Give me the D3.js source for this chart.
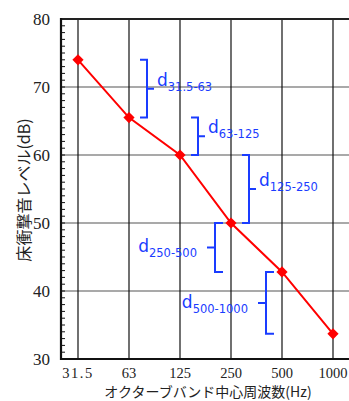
<!DOCTYPE html>
<html>
<head>
<meta charset="utf-8">
<script src="https://cdn.jsdelivr.net/npm/d3@7"></script>
<style>
  body { margin: 0; background: #fff; }
  svg { display: block; }
</style>
</head>
<body>
<svg width="349" height="401"></svg>
<script>
// octave band data
var bands = ["31.5", "63", "125", "250", "500", "1000"];
var levels = [74, 65.5, 60, 50, 42.8, 33.7];
var yTicks = [30, 40, 50, 60, 70, 80];
// difference labels between neighbouring bands
var diffSubs = ["31.5-63", "63-125", "125-250", "250-500", "500-1000"];
var diffSide = ["right", "right", "right", "left", "left"];

var svg = d3.select("svg");
var margin = { top: 19, right: 0, bottom: 42, left: 61 },
    width = +svg.attr("width") - margin.left - margin.right,
    height = +svg.attr("height") - margin.top - margin.bottom;

var g = svg.append("g")
    .attr("transform", "translate(" + margin.left + "," + margin.top + ")");

var x = d3.scaleLinear().domain([-1 / 3, bands.length - 2 / 3]).range([0, width + 1]);
var y = d3.scaleLinear().domain([30, 80]).range([height, 0]);

var serif = "'Liberation Serif', 'DejaVu Serif', serif";
var jp = "'Noto Sans CJK JP', sans-serif";

// horizontal grid
g.selectAll(".hgrid")
    .data(yTicks.filter(function (d) { return d > 30 && d < 80; }))
    .enter().append("line")
    .attr("x1", 0).attr("x2", width)
    .attr("y1", y).attr("y2", y)
    .attr("stroke", "#555").attr("stroke-width", 1.2);

// vertical grid
g.selectAll(".vgrid")
    .data(bands)
    .enter().append("line")
    .attr("x1", function (d, i) { return x(i); })
    .attr("x2", function (d, i) { return x(i); })
    .attr("y1", 0).attr("y2", height)
    .attr("stroke", "#111").attr("stroke-width", 1.2);

// minor ticks on the left axis (inside)
g.selectAll(".minor")
    .data(d3.range(31, 80))
    .enter().append("line")
    .attr("x1", 0).attr("x2", 4)
    .attr("y1", y).attr("y2", y)
    .attr("stroke", "#111").attr("stroke-width", 1);

// frame: top, left, bottom
g.append("line").attr("x1", 0).attr("x2", width).attr("y1", 0).attr("y2", 0)
    .attr("stroke", "#222").attr("stroke-width", 2.2);
g.append("line").attr("x1", 0).attr("x2", 0).attr("y1", -1).attr("y2", height + 1)
    .attr("stroke", "#111").attr("stroke-width", 2.2);
g.append("line").attr("x1", 0).attr("x2", width).attr("y1", height).attr("y2", height)
    .attr("stroke", "#111").attr("stroke-width", 2.2);

// y tick labels
g.selectAll(".ylab")
    .data(yTicks)
    .enter().append("text")
    .attr("x", -11)
    .attr("y", function (d) { return y(d) + 6; })
    .attr("text-anchor", "end")
    .attr("font-family", serif).attr("font-size", 17).attr("fill", "#222")
    .text(function (d) { return d; });

// x tick labels
g.selectAll(".xlab")
    .data(bands)
    .enter().append("text")
    .attr("x", function (d, i) { return x(i); })
    .attr("y", height + 19)
    .attr("text-anchor", "middle")
    .attr("font-family", serif).attr("font-size", 14.5).attr("fill", "#222")
    .attr("letter-spacing", function (d) { return d === "31.5" ? 1.5 : 0; })
    .text(function (d) { return d; });

// axis titles
svg.append("text")
    .attr("x", 208).attr("y", 397)
    .attr("text-anchor", "middle")
    .attr("font-family", jp).attr("font-size", 14).attr("fill", "#222")
    .text("オクターブバンド中心周波数(Hz)");

svg.append("text")
    .attr("transform", "translate(30,190) rotate(-90)")
    .attr("text-anchor", "middle")
    .attr("font-family", jp).attr("font-size", 16).attr("fill", "#222")
    .text("床衝撃音レベル(dB)");

// blue brackets showing the level drop between bands
var blue = "#1a3cff";
var narrow = "'Liberation Sans Narrow', 'DejaVu Sans', sans-serif";
diffSubs.forEach(function (sub, i) {
    var right = diffSide[i] === "right";
    var bx = right ? x(i + 1) + 18 : x(i) - 16;
    var y0 = y(levels[i]), y1 = y(levels[i + 1]);
    var ym = (y0 + y1) / 2;
    var s = right ? -7 : 8;
    g.append("path")
        .attr("d", "M" + (bx + s) + "," + y0 + "H" + bx + "V" + y1 + "H" + (bx + s) +
            "M" + bx + "," + ym + "H" + (bx - s))
        .attr("fill", "none").attr("stroke", blue).attr("stroke-width", 2);
    var t = g.append("text")
        .attr("fill", blue).attr("font-family", narrow)
        .attr("text-anchor", right ? "start" : "end")
        .attr("x", right ? bx + 10 : bx - 18)
        .attr("y", ym - (right ? 3 : -5));
    t.append("tspan").attr("font-size", 17).text("d");
    t.append("tspan").attr("font-size", 11.5).attr("dy", 5).text(sub);
});

// level line with diamond markers
var line = d3.line()
    .x(function (d, i) { return x(i); })
    .y(function (d) { return y(d); });

g.append("path")
    .datum(levels)
    .attr("d", line)
    .attr("fill", "none").attr("stroke", "#ff0000").attr("stroke-width", 2);

g.selectAll(".pt")
    .data(levels)
    .enter().append("path")
    .attr("d", d3.symbol().type(d3.symbolDiamond2).size(80))
    .attr("transform", function (d, i) { return "translate(" + x(i) + "," + y(d) + ")"; })
    .attr("fill", "#ff0000");
</script>
</body>
</html>
